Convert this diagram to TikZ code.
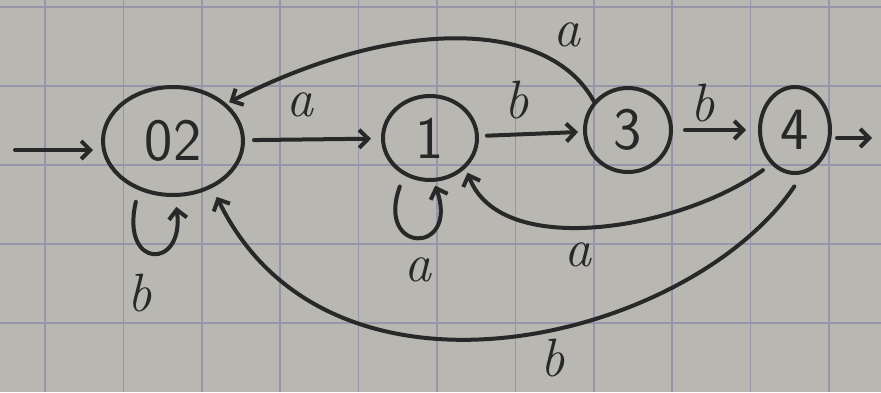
\documentclass[tikz,border=0pt]{standalone}
\usetikzlibrary{arrows.meta,shapes.geometric}
\definecolor{paper}{RGB}{184,183,178}
\definecolor{gridc}{RGB}{152,149,170}
\definecolor{ink}{RGB}{40,40,40}
\begin{document}
\begin{tikzpicture}[x=1pt,y=1pt,
  state/.style={ellipse,draw=ink,line width=4pt,inner sep=0pt,font=\sffamily\fontsize{60}{60}\selectfont,text=ink},
  trans/.style={draw=ink,line width=4pt,line cap=round,-{Straight Barb[length=9pt,width=18pt]}},
  lbl/.style={font=\itshape\fontsize{54}{54}\selectfont,text=ink,inner sep=0pt},
  gridline/.style={draw=gridc,line width=1.6pt}]
\useasboundingbox (0,0) rectangle (881,-392);
\fill[paper] (0,0) rectangle (881,-392);
\foreach \i in {0,...,10} \draw[gridline] ({45+78.4*\i},0) -- ({45+78.4*\i},-392);
\foreach \j in {0,...,4} \draw[gridline] (0,{-7-79*\j}) -- (881,{-7-79*\j});

\node[state,minimum width=140pt,minimum height=108pt] (q02) at (173,-141) {02};
\node[state,minimum width=94pt,minimum height=84pt] (q1) at (430,-138) {1};
\node[state,minimum width=86pt,minimum height=84pt] (q3) at (628,-130) {3};
\node[state,minimum width=70pt,minimum height=86pt] (q4) at (795,-130) {4};

\coordinate (start) at (15,-150);
\coordinate (out) at (872,-138);

% straight transitions
\draw[trans,shorten >=8pt] (start) -- (q02.west |- start);
\draw[trans,shorten <=9pt,shorten >=10pt] (q02) -- (q1);
\draw[trans,shorten <=8pt,shorten >=5pt] (q1) -- (q3);
\draw[trans,shorten <=12pt,shorten >=12pt] (q3) -- (q4);
\draw[trans,shorten <=5pt] (q4.east |- out) -- (out);

% back transitions
\draw[trans,shorten >=3pt] (q3.140) .. controls (550,-20) and (400,-15) .. (q02.35);
\draw[trans,shorten <=10pt,shorten >=5pt] (q4.235) .. controls (680,-230) and (500,-260) .. (q1.-40);
\draw[trans,shorten <=15pt,shorten >=10pt] (q4.280) .. controls (690,-340) and (330,-430) .. (q02.-50);

% self loops
\draw[trans,shorten <=12pt,shorten >=10pt] (q02.235) .. controls (120,-270) and (185,-270) .. (q02.272);
\draw[trans,shorten <=12pt,shorten >=4pt] (q1.235) .. controls (375,-255) and (460,-255) .. (q1.275);

% labels
\node[lbl] (la1) at (300,-105) {a};
\node[lbl] (lb1) at (517,-100) {b};
\node[lbl] (lb2) at (703,-103) {b};
\node[lbl] (la2) at (567,-35) {a};
\node[lbl] (la3) at (578,-255) {a};
\node[lbl] (lb3) at (553,-358) {b};
\node[lbl] (lb4) at (140,-293) {b};
\node[lbl] (la4) at (418,-270) {a};
\end{tikzpicture}
\end{document}
